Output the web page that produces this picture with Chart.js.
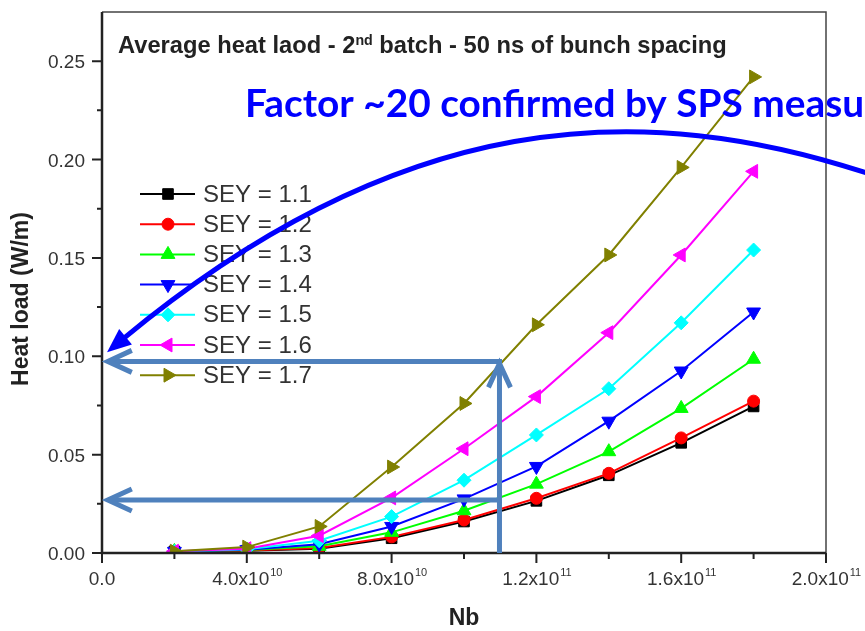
<!DOCTYPE html>
<html>
<head>
<meta charset="utf-8">
<script src="https://cdn.jsdelivr.net/npm/chart.js@4.4.1/dist/chart.umd.min.js"></script>
<style>
  html, body { margin: 0; padding: 0; background: #fff; }
  #wrap { width: 865px; height: 631px; position: relative; }
</style>
</head>
<body>
<div id="wrap"><canvas id="heatChart"></canvas></div>
<script>
// bunch population (x) and heat load per SEY value (y, W/m)
const nb = [2e10, 4e10, 6e10, 8e10, 1.0e11, 1.2e11, 1.4e11, 1.6e11, 1.8e11];
const sey11 = [0.0008, 0.0012, 0.0022, 0.0075, 0.0160, 0.0265, 0.0395, 0.0560, 0.0745];
const sey12 = [0.0008, 0.0013, 0.0026, 0.0082, 0.0168, 0.0278, 0.0405, 0.0585, 0.0772];
const sey13 = [0.0008, 0.0015, 0.0034, 0.0105, 0.0215, 0.0350, 0.0515, 0.0735, 0.0985];
const sey14 = [0.0008, 0.0017, 0.0045, 0.0135, 0.0275, 0.0440, 0.0670, 0.0925, 0.1225];
const sey15 = [0.0008, 0.0019, 0.0062, 0.0185, 0.0370, 0.0600, 0.0835, 0.1170, 0.1540];
const sey16 = [0.0009, 0.0022, 0.0088, 0.0280, 0.0530, 0.0795, 0.1120, 0.1515, 0.1940];
const sey17 = [0.0009, 0.0030, 0.0135, 0.0437, 0.0760, 0.1160, 0.1515, 0.1960, 0.2420];

const seriesLabels = ['SEY = 1.1', 'SEY = 1.2', 'SEY = 1.3', 'SEY = 1.4', 'SEY = 1.5', 'SEY = 1.6', 'SEY = 1.7'];
const seriesValues = [sey11, sey12, sey13, sey14, sey15, sey16, sey17];
const seriesColors = ['#000000', '#ff0000', '#00ff00', '#0000ff', '#00ffff', '#ff00ff', '#808000'];
const seriesMarkers = ['rect', 'circle', 'triangle', 'triangle', 'rectRot', 'triangle', 'triangle'];
const markerRotation = [0, 0, 0, 180, 0, 270, 90];
const markerRadius = [7.5, 6, 8, 8, 7, 8, 8];

// axis ticks
const xMajorTicks = [0, 4e10, 8e10, 1.2e11, 1.6e11, 2.0e11];
const xMinorTicks = [2e10, 6e10, 1.0e11, 1.4e11, 1.8e11];
const xTickLabels = [['0.0', ''], ['4.0x10', '10'], ['8.0x10', '10'], ['1.2x10', '11'], ['1.6x10', '11'], ['2.0x10', '11']];
const yMajorTicks = [0, 0.05, 0.10, 0.15, 0.20, 0.25];
const yMinorTicks = [0.025, 0.075, 0.125, 0.175, 0.225];
const yTickLabels = ['0.00', '0.05', '0.10', '0.15', '0.20', '0.25'];

// annotation arrows (data units)
const refNb = 1.098e11;
const refHigh = 0.0974;
const refLow = 0.0269;
const arrowTipNb = 1.6e9;
// big curved arrow: tip, two controls, end (Nb, W/m)
const curveTip = [1.4e9, 0.1021];
const curveC1 = [8.2e10, 0.2251];
const curveC2 = [1.484e11, 0.2327];
const curveEnd = [2.146e11, 0.1911];

const FONT = '"Liberation Sans", Arial, sans-serif';

function fitSize(ctx, text, weight, family, target) {
    ctx.font = weight + ' 100px ' + family;
    return 100 * target / ctx.measureText(text).width;
}

function chevron(ctx, x, y, dx, dy) {
    // open arrowhead at (x,y); (dx,dy) is the direction the arrow points to
    const len = Math.hypot(dx, dy);
    const ux = dx / len, uy = dy / len;
    const back = 24, side = 11;
    ctx.beginPath();
    ctx.moveTo(x - ux * back - uy * side, y - uy * back + ux * side);
    ctx.lineTo(x, y);
    ctx.lineTo(x - ux * back + uy * side, y - uy * back - ux * side);
    ctx.stroke();
}

function drawMarker(ctx, i, x, y) {
    const opts = {
        pointStyle: seriesMarkers[i],
        rotation: markerRotation[i],
        radius: markerRadius[i],
        borderWidth: 1
    };
    ctx.fillStyle = seriesColors[i];
    ctx.strokeStyle = seriesColors[i];
    ctx.lineWidth = 1;
    Chart.helpers.drawPoint(ctx, opts, x, y);
}

const overlay = {
    id: 'overlay',
    afterDraw(chart) {
        const ctx = chart.ctx;
        const xs = chart.scales.x, ys = chart.scales.y;
        const area = chart.chartArea;
        ctx.save();

        // frame
        ctx.strokeStyle = '#444';
        ctx.lineWidth = 1.5;
        ctx.beginPath();
        ctx.moveTo(area.left, area.top);
        ctx.lineTo(area.right, area.top);
        ctx.lineTo(area.right, area.bottom);
        ctx.stroke();
        ctx.strokeStyle = '#222';
        ctx.lineWidth = 2.5;
        ctx.beginPath();
        ctx.moveTo(area.left, area.top);
        ctx.lineTo(area.left, area.bottom);
        ctx.lineTo(area.right, area.bottom);
        ctx.stroke();

        // ticks
        ctx.lineWidth = 2;
        ctx.beginPath();
        xMajorTicks.forEach(v => { const px = xs.getPixelForValue(v); ctx.moveTo(px, area.bottom); ctx.lineTo(px, area.bottom + 10); });
        xMinorTicks.forEach(v => { const px = xs.getPixelForValue(v); ctx.moveTo(px, area.bottom); ctx.lineTo(px, area.bottom + 6); });
        yMajorTicks.forEach(v => { const py = ys.getPixelForValue(v); ctx.moveTo(area.left, py); ctx.lineTo(area.left - 10, py); });
        yMinorTicks.forEach(v => { const py = ys.getPixelForValue(v); ctx.moveTo(area.left, py); ctx.lineTo(area.left - 5, py); });
        ctx.stroke();

        // tick labels
        ctx.fillStyle = '#333';
        ctx.textBaseline = 'alphabetic';
        ctx.textAlign = 'right';
        ctx.font = '19px ' + FONT;
        yMajorTicks.forEach((v, i) => {
            ctx.fillText(yTickLabels[i], area.left - 17, ys.getPixelForValue(v) + 7);
        });
        ctx.textAlign = 'left';
        xMajorTicks.forEach((v, i) => {
            const [base, sup] = xTickLabels[i];
            ctx.font = '19px ' + FONT;
            const wb = ctx.measureText(base).width;
            ctx.font = '11px ' + FONT;
            const ws = sup ? ctx.measureText(sup).width : 0;
            const x0 = xs.getPixelForValue(v) - (wb + ws) / 2;
            ctx.font = '19px ' + FONT;
            ctx.fillText(base, x0, 585);
            if (sup) {
                ctx.font = '11px ' + FONT;
                ctx.fillText(sup, x0 + wb + 1, 576);
            }
        });

        // axis titles
        ctx.font = 'bold 23px ' + FONT;
        ctx.textAlign = 'center';
        ctx.textBaseline = 'middle';
        ctx.fillStyle = '#222';
        ctx.fillText('Nb', (area.left + area.right) / 2, 619);
        ctx.save();
        ctx.translate(22, 299);
        ctx.rotate(-Math.PI / 2);
        ctx.fillText('Heat load (W/m)', 0, 0);
        ctx.restore();

        // plot title with superscript
        const t1 = 'Average heat laod - 2', t2 = 'nd', t3 = ' batch - 50 ns of bunch spacing';
        ctx.font = 'bold 100px ' + FONT;
        const w100 = ctx.measureText(t1 + t3).width + ctx.measureText(t2).width * 0.6;
        const ts = 100 * 609 / w100;
        ctx.textAlign = 'left';
        ctx.textBaseline = 'alphabetic';
        ctx.fillStyle = '#222';
        let tx = 118;
        ctx.font = 'bold ' + ts + 'px ' + FONT;
        ctx.fillText(t1, tx, 53);
        tx += ctx.measureText(t1).width;
        ctx.font = 'bold ' + (ts * 0.6) + 'px ' + FONT;
        ctx.fillText(t2, tx, 45);
        tx += ctx.measureText(t2).width;
        ctx.font = 'bold ' + ts + 'px ' + FONT;
        ctx.fillText(t3, tx, 53);

        // legend
        ctx.font = '24px ' + FONT;
        ctx.textBaseline = 'middle';
        seriesLabels.forEach((label, i) => {
            const y = 194 + i * 30.2;
            ctx.strokeStyle = seriesColors[i];
            ctx.lineWidth = 2;
            ctx.beginPath();
            ctx.moveTo(140, y);
            ctx.lineTo(195, y);
            ctx.stroke();
            drawMarker(ctx, i, 168, y);
            ctx.fillStyle = '#333';
            ctx.fillText(label, 203, y + 1);
        });

        // steel blue reading arrows
        ctx.strokeStyle = '#4f81bd';
        ctx.lineWidth = 5;
        ctx.lineCap = 'butt';
        ctx.lineJoin = 'miter';
        const rx = xs.getPixelForValue(refNb);
        const hy = ys.getPixelForValue(refHigh);
        const ly = ys.getPixelForValue(refLow);
        const tipX = xs.getPixelForValue(arrowTipNb);
        ctx.beginPath();
        ctx.moveTo(rx, area.bottom);
        ctx.lineTo(rx, hy);
        ctx.moveTo(rx + 2.5, hy);
        ctx.lineTo(tipX + 2, hy);
        ctx.moveTo(rx + 2.5, ly);
        ctx.lineTo(tipX + 2, ly);
        ctx.stroke();
        chevron(ctx, tipX, hy, -1, 0);
        chevron(ctx, tipX, ly, -1, 0);
        chevron(ctx, rx, hy + 2, 0, -1);

        // big curved arrow
        const P = p => [xs.getPixelForValue(p[0]), ys.getPixelForValue(p[1])];
        const p0 = P(curveTip), p1 = P(curveC1), p2 = P(curveC2), p3 = P(curveEnd);
        const dx = p0[0] - p1[0], dy = p0[1] - p1[1];
        const dl = Math.hypot(dx, dy);
        const ux = dx / dl, uy = dy / dl;
        const headLen = 24, headHalf = 10;
        ctx.strokeStyle = '#0000ff';
        ctx.fillStyle = '#0000ff';
        ctx.lineWidth = 5;
        ctx.beginPath();
        ctx.moveTo(p3[0], p3[1]);
        ctx.bezierCurveTo(p2[0], p2[1], p1[0], p1[1], p0[0] - ux * (headLen - 4), p0[1] - uy * (headLen - 4));
        ctx.stroke();
        ctx.beginPath();
        ctx.moveTo(p0[0], p0[1]);
        ctx.lineTo(p0[0] - ux * headLen - uy * headHalf, p0[1] - uy * headLen + ux * headHalf);
        ctx.lineTo(p0[0] - ux * headLen + uy * headHalf, p0[1] - uy * headLen - ux * headHalf);
        ctx.closePath();
        ctx.fill();

        // blue annotation text
        const fam = 'Lato, "Open Sans", sans-serif';
        const bs = fitSize(ctx, 'Factor ~20 confirmed by SPS', 'bold', fam, 498);
        ctx.font = 'bold ' + bs + 'px ' + fam;
        ctx.textAlign = 'left';
        ctx.textBaseline = 'alphabetic';
        ctx.fillStyle = '#0000ff';
        ctx.fillText('Factor ~20 confirmed by SPS measurements', 245, 117);

        ctx.restore();
    }
};

const datasets = seriesLabels.map((label, i) => ({
    label: label,
    data: nb.map((x, k) => ({ x: x, y: seriesValues[i][k] })),
    borderColor: seriesColors[i],
    backgroundColor: seriesColors[i],
    borderWidth: 2,
    pointStyle: seriesMarkers[i],
    pointRotation: markerRotation[i],
    pointRadius: markerRadius[i],
    pointBorderWidth: 1,
    order: seriesLabels.length - i
}));

new Chart(document.getElementById('heatChart'), {
    type: 'line',
    data: { datasets: datasets },
    options: {
        responsive: true,
        maintainAspectRatio: false,
        animation: false,
        devicePixelRatio: 1,
        layout: { padding: { top: 12, right: 39, left: 0, bottom: 0 } },
        plugins: { legend: { display: false }, tooltip: { enabled: false } },
        scales: {
            x: {
                type: 'linear',
                min: 0,
                max: 2e11,
                grid: { display: false, drawTicks: false },
                border: { display: false },
                ticks: { display: false },
                afterFit: s => { s.height = 78; }
            },
            y: {
                type: 'linear',
                min: 0,
                max: 0.275,
                grid: { display: false, drawTicks: false },
                border: { display: false },
                ticks: { display: false },
                afterFit: s => { s.width = 102; }
            }
        }
    },
    plugins: [overlay]
});
</script>
</body>
</html>
